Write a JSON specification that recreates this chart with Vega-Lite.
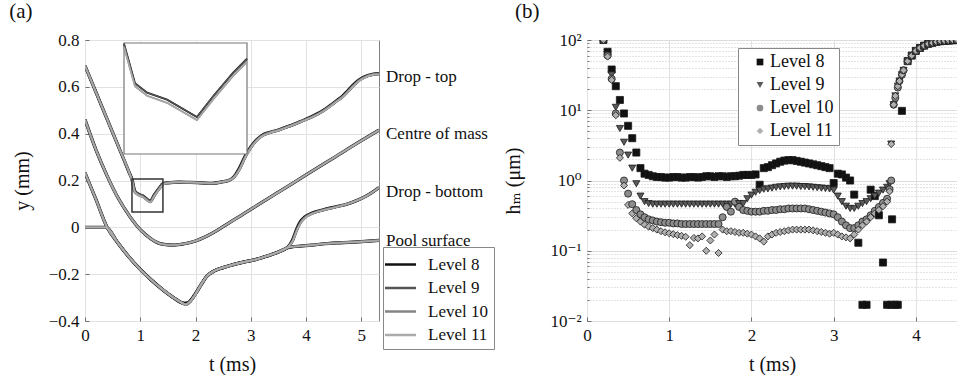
{
"$schema": "https://vega.github.io/schema/vega-lite/v6.json",
"background": "white",
"padding": {"left": 8, "top": 0, "right": 0, "bottom": 0},
"config": {
  "font": "Liberation Serif, Times New Roman, DejaVu Serif, serif",
  "view": {"stroke": "#808080", "strokeWidth": 1},
  "axis": {"labelFont": "Liberation Serif, Times New Roman, DejaVu Serif, serif", "labelFontSize": 17, "labelColor": "#111", "titleFont": "Liberation Serif, Times New Roman, DejaVu Serif, serif", "titleFontSize": 20, "titleFontWeight": "normal", "titleColor": "#111", "gridColor": "#e2e2e2", "domain": false, "ticks": true, "tickSize": -4, "tickColor": "#707070", "labelPadding": 10, "labelFlush": false},
  "legend": {"labelFont": "Liberation Serif, Times New Roman, DejaVu Serif, serif", "labelFontSize": 17, "labelColor": "#111", "strokeColor": "#888", "fillColor": "white", "padding": 5, "rowPadding": 5},
  "title": {"font": "Liberation Serif, Times New Roman, DejaVu Serif, serif", "fontSize": 21, "fontWeight": "normal", "color": "#111", "anchor": "start", "frame": "bounds"}
},
"datasets": {
  "curves": [
    {"c":"top","t":0,"Level 8":0.69,"Level 9":0.69,"Level 10":0.69,"Level 11":0.69},
    {"c":"top","t":0.2,"Level 8":0.576,"Level 9":0.576,"Level 10":0.576,"Level 11":0.576},
    {"c":"top","t":0.4,"Level 8":0.462,"Level 9":0.462,"Level 10":0.462,"Level 11":0.462},
    {"c":"top","t":0.6,"Level 8":0.348,"Level 9":0.348,"Level 10":0.348,"Level 11":0.348},
    {"c":"top","t":0.8,"Level 8":0.234,"Level 9":0.234,"Level 10":0.234,"Level 11":0.234},
    {"c":"top","t":0.85,"Level 8":0.205,"Level 9":0.205,"Level 10":0.201,"Level 11":0.201},
    {"c":"top","t":0.9,"Level 8":0.155,"Level 9":0.155,"Level 10":0.151,"Level 11":0.151},
    {"c":"top","t":0.955,"Level 8":0.143,"Level 9":0.143,"Level 10":0.139,"Level 11":0.139},
    {"c":"top","t":1.046,"Level 8":0.134,"Level 9":0.134,"Level 10":0.13,"Level 11":0.13},
    {"c":"top","t":1.182,"Level 8":0.112,"Level 9":0.112,"Level 10":0.108,"Level 11":0.108},
    {"c":"top","t":1.255,"Level 8":0.138,"Level 9":0.138,"Level 10":0.134,"Level 11":0.134},
    {"c":"top","t":1.346,"Level 8":0.168,"Level 9":0.168,"Level 10":0.164,"Level 11":0.164},
    {"c":"top","t":1.41,"Level 8":0.186,"Level 9":0.186,"Level 10":0.182,"Level 11":0.182},
    {"c":"top","t":1.5,"Level 8":0.19,"Level 9":0.19,"Level 10":0.19,"Level 11":0.19},
    {"c":"top","t":1.7,"Level 8":0.193,"Level 9":0.193,"Level 10":0.193,"Level 11":0.193},
    {"c":"top","t":1.9,"Level 8":0.192,"Level 9":0.192,"Level 10":0.192,"Level 11":0.192},
    {"c":"top","t":2.1,"Level 8":0.19,"Level 9":0.19,"Level 10":0.19,"Level 11":0.19},
    {"c":"top","t":2.3,"Level 8":0.188,"Level 9":0.188,"Level 10":0.188,"Level 11":0.188},
    {"c":"top","t":2.5,"Level 8":0.195,"Level 9":0.195,"Level 10":0.195,"Level 11":0.195},
    {"c":"top","t":2.6,"Level 8":0.2,"Level 9":0.2,"Level 10":0.2,"Level 11":0.2},
    {"c":"top","t":2.7,"Level 8":0.217,"Level 9":0.215,"Level 10":0.215,"Level 11":0.214},
    {"c":"top","t":2.8,"Level 8":0.255,"Level 9":0.25,"Level 10":0.25,"Level 11":0.248},
    {"c":"top","t":2.9,"Level 8":0.305,"Level 9":0.3,"Level 10":0.3,"Level 11":0.298},
    {"c":"top","t":3.0,"Level 8":0.343,"Level 9":0.34,"Level 10":0.34,"Level 11":0.338},
    {"c":"top","t":3.1,"Level 8":0.372,"Level 9":0.37,"Level 10":0.37,"Level 11":0.368},
    {"c":"top","t":3.2,"Level 8":0.392,"Level 9":0.39,"Level 10":0.39,"Level 11":0.388},
    {"c":"top","t":3.35,"Level 8":0.406,"Level 9":0.405,"Level 10":0.405,"Level 11":0.404},
    {"c":"top","t":3.5,"Level 8":0.416,"Level 9":0.415,"Level 10":0.415,"Level 11":0.414},
    {"c":"top","t":3.7,"Level 8":0.433,"Level 9":0.432,"Level 10":0.432,"Level 11":0.431},
    {"c":"top","t":3.9,"Level 8":0.452,"Level 9":0.451,"Level 10":0.451,"Level 11":0.45},
    {"c":"top","t":4.1,"Level 8":0.472,"Level 9":0.47,"Level 10":0.47,"Level 11":0.469},
    {"c":"top","t":4.3,"Level 8":0.497,"Level 9":0.495,"Level 10":0.495,"Level 11":0.494},
    {"c":"top","t":4.45,"Level 8":0.522,"Level 9":0.52,"Level 10":0.52,"Level 11":0.518},
    {"c":"top","t":4.55,"Level 8":0.541,"Level 9":0.538,"Level 10":0.538,"Level 11":0.536},
    {"c":"top","t":4.65,"Level 8":0.558,"Level 9":0.555,"Level 10":0.555,"Level 11":0.553},
    {"c":"top","t":4.75,"Level 8":0.582,"Level 9":0.578,"Level 10":0.578,"Level 11":0.576},
    {"c":"top","t":4.85,"Level 8":0.607,"Level 9":0.603,"Level 10":0.603,"Level 11":0.601},
    {"c":"top","t":4.95,"Level 8":0.628,"Level 9":0.625,"Level 10":0.625,"Level 11":0.623},
    {"c":"top","t":5.05,"Level 8":0.642,"Level 9":0.64,"Level 10":0.64,"Level 11":0.638},
    {"c":"top","t":5.2,"Level 8":0.653,"Level 9":0.652,"Level 10":0.652,"Level 11":0.651},
    {"c":"top","t":5.32,"Level 8":0.656,"Level 9":0.655,"Level 10":0.655,"Level 11":0.654},
    {"c":"com","t":0,"Level 8":0.46,"Level 9":0.46,"Level 10":0.46,"Level 11":0.46},
    {"c":"com","t":0.2,"Level 8":0.33,"Level 9":0.33,"Level 10":0.33,"Level 11":0.33},
    {"c":"com","t":0.4,"Level 8":0.22,"Level 9":0.22,"Level 10":0.22,"Level 11":0.22},
    {"c":"com","t":0.6,"Level 8":0.125,"Level 9":0.125,"Level 10":0.125,"Level 11":0.125},
    {"c":"com","t":0.8,"Level 8":0.05,"Level 9":0.05,"Level 10":0.05,"Level 11":0.05},
    {"c":"com","t":1.0,"Level 8":-0.01,"Level 9":-0.01,"Level 10":-0.01,"Level 11":-0.01},
    {"c":"com","t":1.2,"Level 8":-0.05,"Level 9":-0.05,"Level 10":-0.05,"Level 11":-0.05},
    {"c":"com","t":1.4,"Level 8":-0.072,"Level 9":-0.072,"Level 10":-0.072,"Level 11":-0.072},
    {"c":"com","t":1.6,"Level 8":-0.076,"Level 9":-0.076,"Level 10":-0.076,"Level 11":-0.076},
    {"c":"com","t":1.8,"Level 8":-0.07,"Level 9":-0.07,"Level 10":-0.07,"Level 11":-0.07},
    {"c":"com","t":2.0,"Level 8":-0.058,"Level 9":-0.058,"Level 10":-0.058,"Level 11":-0.058},
    {"c":"com","t":2.2,"Level 8":-0.038,"Level 9":-0.038,"Level 10":-0.038,"Level 11":-0.038},
    {"c":"com","t":2.4,"Level 8":-0.012,"Level 9":-0.012,"Level 10":-0.012,"Level 11":-0.012},
    {"c":"com","t":2.6,"Level 8":0.018,"Level 9":0.018,"Level 10":0.018,"Level 11":0.018},
    {"c":"com","t":2.8,"Level 8":0.047,"Level 9":0.047,"Level 10":0.047,"Level 11":0.047},
    {"c":"com","t":3.0,"Level 8":0.077,"Level 9":0.077,"Level 10":0.077,"Level 11":0.077},
    {"c":"com","t":3.5,"Level 8":0.15,"Level 9":0.15,"Level 10":0.15,"Level 11":0.15},
    {"c":"com","t":4.0,"Level 8":0.224,"Level 9":0.224,"Level 10":0.224,"Level 11":0.224},
    {"c":"com","t":4.5,"Level 8":0.297,"Level 9":0.297,"Level 10":0.297,"Level 11":0.297},
    {"c":"com","t":5.0,"Level 8":0.37,"Level 9":0.37,"Level 10":0.37,"Level 11":0.37},
    {"c":"com","t":5.32,"Level 8":0.415,"Level 9":0.415,"Level 10":0.415,"Level 11":0.415},
    {"c":"bottom","t":0,"Level 8":0.233,"Level 9":0.233,"Level 10":0.233,"Level 11":0.233},
    {"c":"bottom","t":0.2,"Level 8":0.118,"Level 9":0.118,"Level 10":0.118,"Level 11":0.118},
    {"c":"bottom","t":0.4,"Level 8":0,"Level 9":0,"Level 10":0,"Level 11":0},
    {"c":"bottom","t":0.6,"Level 8":-0.068,"Level 9":-0.068,"Level 10":-0.068,"Level 11":-0.068},
    {"c":"bottom","t":0.8,"Level 8":-0.128,"Level 9":-0.128,"Level 10":-0.128,"Level 11":-0.128},
    {"c":"bottom","t":1.0,"Level 8":-0.18,"Level 9":-0.18,"Level 10":-0.18,"Level 11":-0.18},
    {"c":"bottom","t":1.2,"Level 8":-0.225,"Level 9":-0.225,"Level 10":-0.225,"Level 11":-0.225},
    {"c":"bottom","t":1.4,"Level 8":-0.265,"Level 9":-0.265,"Level 10":-0.265,"Level 11":-0.265},
    {"c":"bottom","t":1.6,"Level 8":-0.3,"Level 9":-0.3,"Level 10":-0.3,"Level 11":-0.3},
    {"c":"bottom","t":1.75,"Level 8":-0.322,"Level 9":-0.322,"Level 10":-0.322,"Level 11":-0.322},
    {"c":"bottom","t":1.82,"Level 8":-0.325,"Level 9":-0.33,"Level 10":-0.33,"Level 11":-0.33},
    {"c":"bottom","t":1.9,"Level 8":-0.316,"Level 9":-0.318,"Level 10":-0.318,"Level 11":-0.318},
    {"c":"bottom","t":2.0,"Level 8":-0.283,"Level 9":-0.285,"Level 10":-0.285,"Level 11":-0.285},
    {"c":"bottom","t":2.1,"Level 8":-0.245,"Level 9":-0.245,"Level 10":-0.245,"Level 11":-0.245},
    {"c":"bottom","t":2.2,"Level 8":-0.21,"Level 9":-0.21,"Level 10":-0.21,"Level 11":-0.21},
    {"c":"bottom","t":2.35,"Level 8":-0.185,"Level 9":-0.185,"Level 10":-0.185,"Level 11":-0.185},
    {"c":"bottom","t":2.5,"Level 8":-0.172,"Level 9":-0.172,"Level 10":-0.172,"Level 11":-0.172},
    {"c":"bottom","t":2.7,"Level 8":-0.158,"Level 9":-0.158,"Level 10":-0.158,"Level 11":-0.158},
    {"c":"bottom","t":2.9,"Level 8":-0.147,"Level 9":-0.147,"Level 10":-0.147,"Level 11":-0.147},
    {"c":"bottom","t":3.1,"Level 8":-0.137,"Level 9":-0.137,"Level 10":-0.137,"Level 11":-0.137},
    {"c":"bottom","t":3.3,"Level 8":-0.122,"Level 9":-0.122,"Level 10":-0.122,"Level 11":-0.122},
    {"c":"bottom","t":3.5,"Level 8":-0.105,"Level 9":-0.105,"Level 10":-0.105,"Level 11":-0.105},
    {"c":"bottom","t":3.67,"Level 8":-0.085,"Level 9":-0.085,"Level 10":-0.085,"Level 11":-0.085},
    {"c":"bottom","t":3.76,"Level 8":-0.052,"Level 9":-0.056,"Level 10":-0.058,"Level 11":-0.058},
    {"c":"bottom","t":3.83,"Level 8":-0.008,"Level 9":-0.013,"Level 10":-0.015,"Level 11":-0.016},
    {"c":"bottom","t":3.9,"Level 8":0.025,"Level 9":0.02,"Level 10":0.018,"Level 11":0.017},
    {"c":"bottom","t":3.97,"Level 8":0.043,"Level 9":0.04,"Level 10":0.039,"Level 11":0.038},
    {"c":"bottom","t":4.1,"Level 8":0.06,"Level 9":0.058,"Level 10":0.058,"Level 11":0.057},
    {"c":"bottom","t":4.3,"Level 8":0.074,"Level 9":0.073,"Level 10":0.073,"Level 11":0.072},
    {"c":"bottom","t":4.52,"Level 8":0.087,"Level 9":0.086,"Level 10":0.086,"Level 11":0.085},
    {"c":"bottom","t":4.75,"Level 8":0.1,"Level 9":0.1,"Level 10":0.1,"Level 11":0.1},
    {"c":"bottom","t":4.94,"Level 8":0.117,"Level 9":0.117,"Level 10":0.117,"Level 11":0.117},
    {"c":"bottom","t":5.1,"Level 8":0.135,"Level 9":0.135,"Level 10":0.135,"Level 11":0.135},
    {"c":"bottom","t":5.32,"Level 8":0.17,"Level 9":0.17,"Level 10":0.17,"Level 11":0.17},
    {"c":"pool","t":0,"Level 8":0,"Level 9":0,"Level 10":0,"Level 11":0},
    {"c":"pool","t":0.38,"Level 8":0,"Level 9":0,"Level 10":0,"Level 11":0},
    {"c":"pool","t":0.6,"Level 8":-0.068,"Level 9":-0.068,"Level 10":-0.068,"Level 11":-0.068},
    {"c":"pool","t":0.8,"Level 8":-0.128,"Level 9":-0.128,"Level 10":-0.128,"Level 11":-0.128},
    {"c":"pool","t":1.0,"Level 8":-0.18,"Level 9":-0.18,"Level 10":-0.18,"Level 11":-0.18},
    {"c":"pool","t":1.2,"Level 8":-0.225,"Level 9":-0.225,"Level 10":-0.225,"Level 11":-0.225},
    {"c":"pool","t":1.4,"Level 8":-0.265,"Level 9":-0.265,"Level 10":-0.265,"Level 11":-0.265},
    {"c":"pool","t":1.6,"Level 8":-0.3,"Level 9":-0.3,"Level 10":-0.3,"Level 11":-0.3},
    {"c":"pool","t":1.75,"Level 8":-0.322,"Level 9":-0.322,"Level 10":-0.322,"Level 11":-0.322},
    {"c":"pool","t":1.82,"Level 8":-0.325,"Level 9":-0.33,"Level 10":-0.33,"Level 11":-0.33},
    {"c":"pool","t":1.9,"Level 8":-0.316,"Level 9":-0.318,"Level 10":-0.318,"Level 11":-0.318},
    {"c":"pool","t":2.0,"Level 8":-0.283,"Level 9":-0.285,"Level 10":-0.285,"Level 11":-0.285},
    {"c":"pool","t":2.1,"Level 8":-0.245,"Level 9":-0.245,"Level 10":-0.245,"Level 11":-0.245},
    {"c":"pool","t":2.2,"Level 8":-0.21,"Level 9":-0.21,"Level 10":-0.21,"Level 11":-0.21},
    {"c":"pool","t":2.35,"Level 8":-0.185,"Level 9":-0.185,"Level 10":-0.185,"Level 11":-0.185},
    {"c":"pool","t":2.5,"Level 8":-0.172,"Level 9":-0.172,"Level 10":-0.172,"Level 11":-0.172},
    {"c":"pool","t":2.7,"Level 8":-0.158,"Level 9":-0.158,"Level 10":-0.158,"Level 11":-0.158},
    {"c":"pool","t":2.9,"Level 8":-0.147,"Level 9":-0.147,"Level 10":-0.147,"Level 11":-0.147},
    {"c":"pool","t":3.1,"Level 8":-0.137,"Level 9":-0.137,"Level 10":-0.137,"Level 11":-0.137},
    {"c":"pool","t":3.3,"Level 8":-0.122,"Level 9":-0.122,"Level 10":-0.122,"Level 11":-0.122},
    {"c":"pool","t":3.5,"Level 8":-0.105,"Level 9":-0.105,"Level 10":-0.105,"Level 11":-0.105},
    {"c":"pool","t":3.67,"Level 8":-0.087,"Level 9":-0.086,"Level 10":-0.086,"Level 11":-0.086},
    {"c":"pool","t":3.76,"Level 8":-0.083,"Level 9":-0.083,"Level 10":-0.083,"Level 11":-0.083},
    {"c":"pool","t":3.9,"Level 8":-0.08,"Level 9":-0.08,"Level 10":-0.08,"Level 11":-0.08},
    {"c":"pool","t":4.1,"Level 8":-0.076,"Level 9":-0.076,"Level 10":-0.076,"Level 11":-0.076},
    {"c":"pool","t":4.34,"Level 8":-0.07,"Level 9":-0.07,"Level 10":-0.07,"Level 11":-0.07},
    {"c":"pool","t":4.6,"Level 8":-0.066,"Level 9":-0.066,"Level 10":-0.066,"Level 11":-0.066},
    {"c":"pool","t":4.94,"Level 8":-0.062,"Level 9":-0.062,"Level 10":-0.062,"Level 11":-0.062},
    {"c":"pool","t":5.32,"Level 8":-0.056,"Level 9":-0.056,"Level 10":-0.056,"Level 11":-0.056}
  ],
  "labels": [
    {"label":"Drop - top","t":5.32,"y":0.642},
    {"label":"Centre of mass","t":5.32,"y":0.40},
    {"label":"Drop - bottom","t":5.32,"y":0.149},
    {"label":"Pool surface","t":5.32,"y":-0.057}
  ],
  "box": [{"t":0.85,"t2":1.41,"y":0.065,"y2":0.206}],
  "hm": [
    {"t":0.2,"Level 8":100,"Level 9":100,"Level 10":100,"Level 11":100},
    {"t":0.25,"Level 8":68,"Level 9":62,"Level 10":60,"Level 11":58},
    {"t":0.3,"Level 8":38,"Level 9":32,"Level 10":28,"Level 11":27},
    {"t":0.35,"Level 8":22,"Level 9":11,"Level 10":9,"Level 11":8.5},
    {"t":0.4,"Level 8":14,"Level 9":5.5,"Level 10":2.5,"Level 11":2.1},
    {"t":0.45,"Level 8":9,"Level 9":3.5,"Level 10":1.0,"Level 11":0.85},
    {"t":0.5,"Level 8":6,"Level 9":2.3,"Level 10":0.65,"Level 11":0.45},
    {"t":0.55,"Level 8":4,"Level 9":1.5,"Level 10":0.46,"Level 11":0.34},
    {"t":0.6,"Level 8":2.5,"Level 9":0.9,"Level 10":0.38,"Level 11":0.29},
    {"t":0.65,"Level 8":1.5,"Level 9":0.6,"Level 10":0.33,"Level 11":0.26},
    {"t":0.7,"Level 8":1.25,"Level 9":0.5,"Level 10":0.3,"Level 11":0.235},
    {"t":0.75,"Level 8":1.2,"Level 9":0.47,"Level 10":0.28,"Level 11":0.22},
    {"t":0.8,"Level 8":1.15,"Level 9":0.46,"Level 10":0.27,"Level 11":0.21},
    {"t":0.85,"Level 8":1.12,"Level 9":0.46,"Level 10":0.26,"Level 11":0.2},
    {"t":0.9,"Level 8":1.12,"Level 9":0.46,"Level 10":0.255,"Level 11":0.19},
    {"t":0.95,"Level 8":1.1,"Level 9":0.46,"Level 10":0.25,"Level 11":0.183},
    {"t":1.0,"Level 8":1.1,"Level 9":0.46,"Level 10":0.25,"Level 11":0.177},
    {"t":1.05,"Level 8":1.12,"Level 9":0.46,"Level 10":0.245,"Level 11":0.172},
    {"t":1.1,"Level 8":1.12,"Level 9":0.46,"Level 10":0.245,"Level 11":0.167},
    {"t":1.15,"Level 8":1.1,"Level 9":0.46,"Level 10":0.24,"Level 11":0.163},
    {"t":1.2,"Level 8":1.1,"Level 9":0.46,"Level 10":0.24,"Level 11":0.158},
    {"t":1.25,"Level 8":1.12,"Level 9":0.46,"Level 10":0.24,"Level 11":0.12},
    {"t":1.3,"Level 8":1.12,"Level 9":0.46,"Level 10":0.24,"Level 11":0.152},
    {"t":1.35,"Level 8":1.1,"Level 9":0.46,"Level 10":0.24,"Level 11":0.15},
    {"t":1.4,"Level 8":1.12,"Level 9":0.46,"Level 10":0.24,"Level 11":0.16},
    {"t":1.45,"Level 8":1.15,"Level 9":0.46,"Level 10":0.24,"Level 11":0.1},
    {"t":1.5,"Level 8":1.15,"Level 9":0.46,"Level 10":0.24,"Level 11":0.14},
    {"t":1.55,"Level 8":1.12,"Level 9":0.46,"Level 10":0.24,"Level 11":0.17},
    {"t":1.6,"Level 8":1.15,"Level 9":0.46,"Level 10":0.24,"Level 11":0.093},
    {"t":1.65,"Level 8":1.15,"Level 9":0.46,"Level 10":0.3,"Level 11":0.2},
    {"t":1.7,"Level 8":1.12,"Level 9":0.46,"Level 10":0.42,"Level 11":0.19},
    {"t":1.75,"Level 8":1.15,"Level 9":0.46,"Level 10":0.36,"Level 11":0.19},
    {"t":1.8,"Level 8":1.15,"Level 9":0.46,"Level 10":0.5,"Level 11":0.185},
    {"t":1.85,"Level 8":1.17,"Level 9":0.47,"Level 10":0.42,"Level 11":0.18},
    {"t":1.9,"Level 8":1.2,"Level 9":0.47,"Level 10":0.38,"Level 11":0.18},
    {"t":1.95,"Level 8":1.2,"Level 9":0.55,"Level 10":0.37,"Level 11":0.175},
    {"t":2.0,"Level 8":1.2,"Level 9":0.62,"Level 10":0.36,"Level 11":0.17},
    {"t":2.05,"Level 8":1.22,"Level 9":0.68,"Level 10":0.36,"Level 11":0.16},
    {"t":2.1,"Level 8":0.87,"Level 9":0.72,"Level 10":0.36,"Level 11":0.15},
    {"t":2.15,"Level 8":1.5,"Level 9":0.75,"Level 10":0.37,"Level 11":0.135},
    {"t":2.2,"Level 8":1.55,"Level 9":0.76,"Level 10":0.37,"Level 11":0.16},
    {"t":2.25,"Level 8":1.65,"Level 9":0.78,"Level 10":0.38,"Level 11":0.17},
    {"t":2.3,"Level 8":1.75,"Level 9":0.8,"Level 10":0.38,"Level 11":0.18},
    {"t":2.35,"Level 8":1.85,"Level 9":0.81,"Level 10":0.39,"Level 11":0.185},
    {"t":2.4,"Level 8":1.92,"Level 9":0.82,"Level 10":0.39,"Level 11":0.19},
    {"t":2.45,"Level 8":1.95,"Level 9":0.83,"Level 10":0.4,"Level 11":0.195},
    {"t":2.5,"Level 8":1.95,"Level 9":0.83,"Level 10":0.4,"Level 11":0.2},
    {"t":2.55,"Level 8":1.9,"Level 9":0.83,"Level 10":0.4,"Level 11":0.2},
    {"t":2.6,"Level 8":1.85,"Level 9":0.82,"Level 10":0.4,"Level 11":0.2},
    {"t":2.65,"Level 8":1.8,"Level 9":0.82,"Level 10":0.4,"Level 11":0.2},
    {"t":2.7,"Level 8":1.75,"Level 9":0.81,"Level 10":0.39,"Level 11":0.2},
    {"t":2.75,"Level 8":1.7,"Level 9":0.8,"Level 10":0.38,"Level 11":0.195},
    {"t":2.8,"Level 8":1.65,"Level 9":0.79,"Level 10":0.37,"Level 11":0.19},
    {"t":2.85,"Level 8":1.6,"Level 9":0.78,"Level 10":0.36,"Level 11":0.185},
    {"t":2.9,"Level 8":1.55,"Level 9":0.77,"Level 10":0.35,"Level 11":0.18},
    {"t":2.95,"Level 8":1.5,"Level 9":0.76,"Level 10":0.34,"Level 11":0.175},
    {"t":3.0,"Level 8":0.92,"Level 9":0.73,"Level 10":0.33,"Level 11":0.18},
    {"t":3.05,"Level 8":1.25,"Level 9":0.6,"Level 10":0.3,"Level 11":0.17},
    {"t":3.1,"Level 8":1.22,"Level 9":0.5,"Level 10":0.26,"Level 11":0.16},
    {"t":3.15,"Level 8":1.1,"Level 9":0.43,"Level 10":0.23,"Level 11":0.155},
    {"t":3.2,"Level 8":1.0,"Level 9":0.4,"Level 10":0.21,"Level 11":0.15},
    {"t":3.25,"Level 8":0.63,"Level 9":0.4,"Level 10":0.21,"Level 11":0.17},
    {"t":3.3,"Level 8":0.13,"Level 9":0.43,"Level 10":0.23,"Level 11":0.2},
    {"t":3.35,"Level 8":0.017,"Level 9":0.47,"Level 10":0.26,"Level 11":0.23},
    {"t":3.4,"Level 8":0.017,"Level 9":0.5,"Level 10":0.28,"Level 11":0.26},
    {"t":3.45,"Level 8":0.74,"Level 9":0.55,"Level 10":0.32,"Level 11":0.3},
    {"t":3.5,"Level 8":0.6,"Level 9":0.6,"Level 10":0.37,"Level 11":0.34},
    {"t":3.55,"Level 8":0.32,"Level 9":0.66,"Level 10":0.42,"Level 11":0.38},
    {"t":3.6,"Level 8":0.068,"Level 9":0.73,"Level 10":0.48,"Level 11":0.43},
    {"t":3.65,"Level 8":0.017,"Level 9":0.8,"Level 10":0.55,"Level 11":0.5},
    {"t":3.68,"Level 9":0.9,"Level 10":0.75,"Level 11":0.7},
    {"t":3.7,"Level 8":0.017,"Level 9":3.3,"Level 10":1.0,"Level 11":3.3},
    {"t":3.71,"Level 8":0.28},
    {"t":3.73,"Level 9":12,"Level 10":12,"Level 11":12},
    {"t":3.75,"Level 8":0.017,"Level 9":16,"Level 10":15,"Level 11":16},
    {"t":3.78,"Level 8":0.017,"Level 9":22,"Level 10":21,"Level 11":22},
    {"t":3.8,"Level 9":26,"Level 10":26,"Level 11":26},
    {"t":3.83,"Level 8":9.8,"Level 9":32,"Level 10":32,"Level 11":32},
    {"t":3.85,"Level 9":37,"Level 10":37,"Level 11":37},
    {"t":3.9,"Level 8":50,"Level 9":50,"Level 10":50,"Level 11":50},
    {"t":3.95,"Level 8":60,"Level 9":60,"Level 10":60,"Level 11":60},
    {"t":4.0,"Level 8":70,"Level 9":70,"Level 10":70,"Level 11":70},
    {"t":4.05,"Level 8":77,"Level 9":77,"Level 10":77,"Level 11":77},
    {"t":4.1,"Level 8":83,"Level 9":83,"Level 10":83,"Level 11":83},
    {"t":4.15,"Level 8":88,"Level 9":88,"Level 10":88,"Level 11":88},
    {"t":4.2,"Level 8":91,"Level 9":91,"Level 10":91,"Level 11":91},
    {"t":4.25,"Level 8":94,"Level 9":94,"Level 10":94,"Level 11":94},
    {"t":4.3,"Level 8":96,"Level 9":96,"Level 10":96,"Level 11":96},
    {"t":4.35,"Level 8":97,"Level 9":97,"Level 10":97,"Level 11":97},
    {"t":4.4,"Level 8":98,"Level 9":98,"Level 10":98,"Level 11":98},
    {"t":4.45,"Level 8":99,"Level 9":99,"Level 10":99,"Level 11":99},
    {"t":4.5,"Level 8":100,"Level 9":100,"Level 10":100,"Level 11":100}
  ]
},
"spacing": 208,
"bounds": "flush",
"resolve": {"scale": {"color": "independent", "fill": "independent", "shape": "independent"}, "legend": {"color": "independent", "fill": "independent", "shape": "independent"}},
"hconcat": [
  {
    "width": 294, "height": 281,
    "title": {"text": "(a)", "dx": -3, "offset": 9},
    "layer": [
      {
        "encoding": {
          "x": {"field": "t", "type": "quantitative", "scale": {"domain": [0, 5.32], "nice": false, "zero": false}, "axis": {"values": [0,1,2,3,4,5], "format": "d", "title": "t (ms)", "grid": true, "titlePadding": 11}},
          "y": {"field": "y", "type": "quantitative", "scale": {"domain": [-0.4, 0.8], "nice": false, "zero": false}, "axis": {"values": [-0.4,-0.2,0,0.2,0.4,0.6,0.8], "format": "~g", "title": "y (mm)", "grid": true, "titlePadding": 16}}
        },
        "layer": [
          {"data": {"name": "curves"}, "transform": [{"fold": ["Level 8","Level 9","Level 10","Level 11"], "as": ["level","y"]}, {"filter": "datum.level == 'Level 8'"}],
           "mark": {"type": "line", "strokeWidth": 3.2, "interpolate": "monotone", "clip": true},
           "encoding": {"color": {"field": "level", "type": "nominal", "scale": {"domain": ["Level 8","Level 9","Level 10","Level 11"], "range": ["#111111","#555555","#858585","#ababab"]}, "legend": {"orient": "none", "legendX": 298, "legendY": 207, "title": null, "symbolType": "M-1.55,0L1.55,0", "symbolSize": 400, "symbolStrokeWidth": 2.5, "labelOffset": 16, "rowPadding": 3.5, "padding": 6}}, "detail": {"field": "c"}}},
          {"data": {"name": "curves"}, "transform": [{"fold": ["Level 8","Level 9","Level 10","Level 11"], "as": ["level","y"]}, {"filter": "datum.level == 'Level 9'"}],
           "mark": {"type": "line", "strokeWidth": 2.7, "interpolate": "monotone", "clip": true},
           "encoding": {"color": {"field": "level", "type": "nominal"}, "detail": {"field": "c"}}},
          {"data": {"name": "curves"}, "transform": [{"fold": ["Level 8","Level 9","Level 10","Level 11"], "as": ["level","y"]}, {"filter": "datum.level == 'Level 10'"}],
           "mark": {"type": "line", "strokeWidth": 2.2, "interpolate": "monotone", "clip": true},
           "encoding": {"color": {"field": "level", "type": "nominal"}, "detail": {"field": "c"}}},
          {"data": {"name": "curves"}, "transform": [{"fold": ["Level 8","Level 9","Level 10","Level 11"], "as": ["level","y"]}, {"filter": "datum.level == 'Level 11'"}],
           "mark": {"type": "line", "strokeWidth": 1.6, "interpolate": "monotone", "clip": true},
           "encoding": {"color": {"field": "level", "type": "nominal"}, "detail": {"field": "c"}}},
          {"data": {"name": "box"}, "mark": {"type": "rect", "fill": null, "fillOpacity": 0, "stroke": "#333333", "strokeWidth": 1.5},
           "encoding": {"x2": {"field": "t2"}, "y2": {"field": "y2"}}},
          {"data": {"name": "labels"}, "mark": {"type": "text", "align": "left", "baseline": "middle", "dx": 7, "fontSize": 17, "font": "Liberation Serif, Times New Roman, DejaVu Serif, serif", "color": "#111111"},
           "encoding": {"text": {"field": "label"}}}
        ]
      },
      {
        "encoding": {
          "x": {"field": "t", "type": "quantitative", "scale": {"domain": [0.85, 1.41], "range": [39, 162], "nice": false, "zero": false}, "axis": null},
          "y": {"field": "y", "type": "quantitative", "scale": {"domain": [0.065, 0.206], "range": [114, 3], "nice": false, "zero": false}, "axis": null}
        },
        "layer": [
          {"data": {"name": "box"}, "mark": {"type": "rect", "fill": "white", "stroke": "#777777", "strokeWidth": 1.2},
           "encoding": {"x2": {"field": "t2"}, "y2": {"field": "y2"}}},
          {"data": {"name": "curves"}, "transform": [{"filter": "datum.c == 'top' && datum.t >= 0.85 && datum.t <= 1.41"}, {"fold": ["Level 8","Level 9","Level 10","Level 11"], "as": ["level","y"]}, {"filter": "datum.level == 'Level 8'"}],
           "mark": {"type": "line", "strokeWidth": 1.8}, "encoding": {"color": {"field": "level", "type": "nominal"}}},
          {"data": {"name": "curves"}, "transform": [{"filter": "datum.c == 'top' && datum.t >= 0.85 && datum.t <= 1.41"}, {"fold": ["Level 8","Level 9","Level 10","Level 11"], "as": ["level","y"]}, {"filter": "datum.level == 'Level 9'"}],
           "mark": {"type": "line", "strokeWidth": 1.3}, "encoding": {"color": {"field": "level", "type": "nominal"}}},
          {"data": {"name": "curves"}, "transform": [{"filter": "datum.c == 'top' && datum.t >= 0.85 && datum.t <= 1.41"}, {"fold": ["Level 8","Level 9","Level 10","Level 11"], "as": ["level","y"]}, {"filter": "datum.level == 'Level 10'"}],
           "mark": {"type": "line", "strokeWidth": 1.8}, "encoding": {"color": {"field": "level", "type": "nominal"}}},
          {"data": {"name": "curves"}, "transform": [{"filter": "datum.c == 'top' && datum.t >= 0.85 && datum.t <= 1.41"}, {"fold": ["Level 8","Level 9","Level 10","Level 11"], "as": ["level","y"]}, {"filter": "datum.level == 'Level 11'"}],
           "mark": {"type": "line", "strokeWidth": 1.3}, "encoding": {"color": {"field": "level", "type": "nominal"}}}
        ]
      }
    ],
    "resolve": {"scale": {"x": "independent", "y": "independent"}}
  },
  {
    "width": 370, "height": 281,
    "title": {"text": "(b)", "dx": 11, "offset": 9},
    "data": {"name": "hm"},
    "transform": [{"fold": ["Level 8","Level 9","Level 10","Level 11"], "as": ["series","h"]}, {"filter": "isValid(datum.h)"}],
    "mark": {"type": "point", "filled": true, "size": 50, "stroke": "#1a1a1a", "strokeWidth": 0.8, "opacity": 1, "clip": true},
    "encoding": {
      "x": {"field": "t", "type": "quantitative", "scale": {"domain": [0, 4.5], "nice": false, "zero": false}, "axis": {"values": [0,1,2,3,4], "format": "d", "title": "t (ms)", "grid": true, "titlePadding": 11}},
      "y": {"field": "h", "type": "quantitative", "scale": {"type": "log", "domain": [0.01, 100], "nice": false},
            "axis": {"values": [0.01,0.02,0.03,0.04,0.05,0.06,0.07,0.08,0.09,0.1,0.2,0.3,0.4,0.5,0.6,0.7,0.8,0.9,1,2,3,4,5,6,7,8,9,10,20,30,40,50,60,70,80,90,100],
                     "labelExpr": "datum.value==100?'10²':datum.value==10?'10¹':datum.value==1?'10⁰':datum.value==0.1?'10⁻¹':datum.value==0.01?'10⁻²':''",
                     "labelOverlap": false,
                     "tickSize": {"condition": {"test": "datum.value==0.01||datum.value==0.1||datum.value==1||datum.value==10||datum.value==100", "value": -4}, "value": -2},
                     "gridDash": {"condition": {"test": "datum.value==0.01||datum.value==0.1||datum.value==1||datum.value==10||datum.value==100", "value": []}, "value": [1, 2]},
                     "gridColor": {"condition": {"test": "datum.value==0.01||datum.value==0.1||datum.value==1||datum.value==10||datum.value==100", "value": "#dcdcdc"}, "value": "#c8c8c8"},
                     "title": "hₘ (μm)", "titlePadding": 26}},
      "fill": {"field": "series", "type": "nominal", "scale": {"domain": ["Level 8","Level 9","Level 10","Level 11"], "range": ["#111111","#5a5a5a","#8c8c8c","#b0b0b0"]}, "legend": {"orient": "none", "legendX": 151, "legendY": 8, "title": null, "symbolSize": 45, "symbolStrokeColor": "#1a1a1a", "symbolStrokeWidth": 0.8, "symbolOffset": 8, "labelOffset": 1, "labelFontSize": 18}},
      "shape": {"field": "series", "type": "nominal", "scale": {"domain": ["Level 8","Level 9","Level 10","Level 11"], "range": ["square","triangle-down","circle","diamond"]}, "legend": {"orient": "none", "legendX": 151, "legendY": 8, "title": null, "symbolSize": 45, "symbolStrokeColor": "#1a1a1a", "symbolStrokeWidth": 0.8, "symbolOffset": 8, "labelOffset": 1, "labelFontSize": 18}}
    }
  }
]
}
